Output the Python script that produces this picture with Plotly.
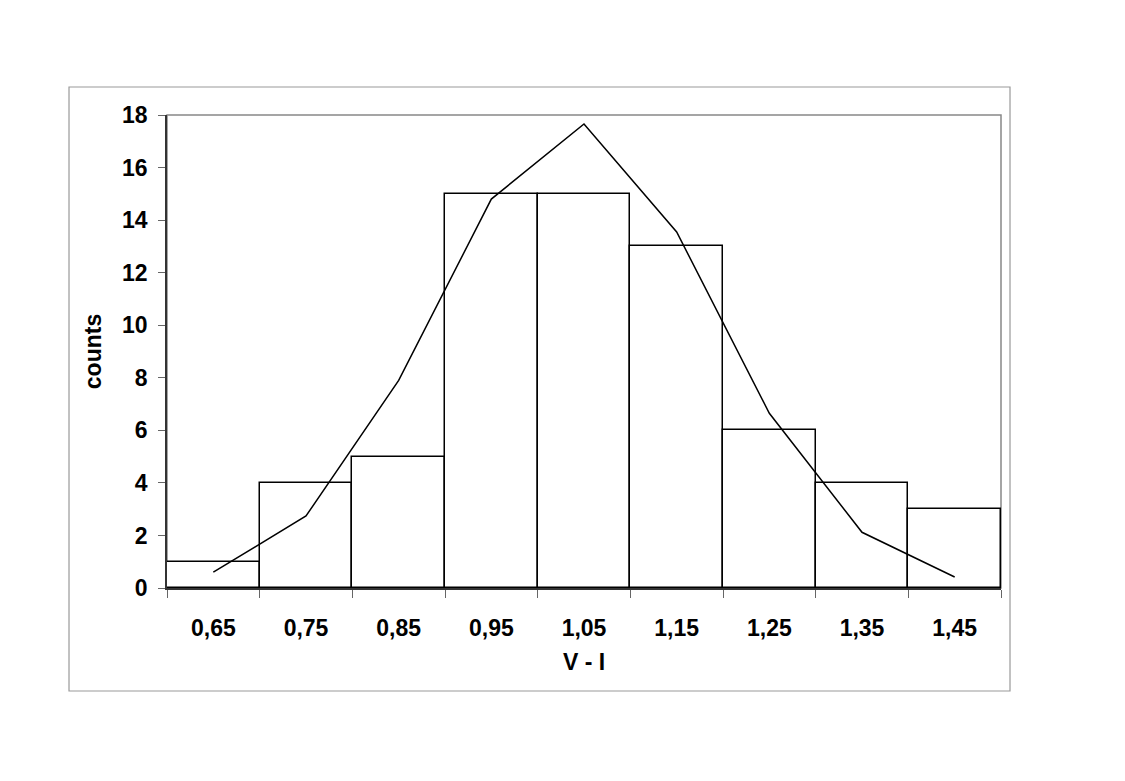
import plotly.graph_objects as go

bin_centers = [0.65, 0.75, 0.85, 0.95, 1.05, 1.15, 1.25, 1.35, 1.45]
bin_labels = ["0,65", "0,75", "0,85", "0,95", "1,05", "1,15", "1,25", "1,35", "1,45"]
counts = [1, 4, 5, 15, 15, 13, 6, 4, 3]
fit_values = [0.6, 2.74, 7.9, 14.8, 17.66, 13.55, 6.65, 2.12, 0.42]
y_ticks = [0, 2, 4, 6, 8, 10, 12, 14, 16, 18]

fig = go.Figure()
fig.add_trace(go.Bar(
    x=bin_centers, y=counts, width=0.1,
    marker=dict(color="white", line=dict(color="black", width=1.5)),
    showlegend=False,
))
fig.add_trace(go.Scatter(
    x=bin_centers, y=fit_values, mode="lines",
    line=dict(color="black", width=1.5), showlegend=False,
))

font_tick = dict(family="Liberation Sans, Arial", size=23, color="black")

fig.update_layout(
    width=1125, height=781,
    paper_bgcolor="white", plot_bgcolor="white",
    margin=dict(l=159, r=132, t=107, b=201),
    bargap=0,
    xaxis=dict(
        range=[0.6, 1.5], tickvals=bin_centers, ticktext=[f"<b>{t}</b>" for t in bin_labels],
        ticks="", tickfont=font_tick, showgrid=False, zeroline=False,
        showline=True, linecolor="#333333", linewidth=1.5,
        minor=dict(tick0=0.6, dtick=0.1, ticks="outside", ticklen=8, tickcolor="#666666", tickwidth=1),
        title=dict(text="<b>V - I</b>", font=dict(family="Liberation Sans, Arial", size=23, color="black"), standoff=14),
        ticklabelstandoff=19,
    ),
    yaxis=dict(
        range=[0, 18], tickvals=y_ticks, ticktext=[f"<b>{v}</b>" for v in y_ticks],
        ticks="outside", ticklen=7, tickcolor="#666666", tickwidth=1,
        tickfont=font_tick, showgrid=False, zeroline=False,
        showline=True, linecolor="#333333", linewidth=1.5,
        title=dict(text="<b>counts</b>", font=dict(family="Liberation Sans, Arial", size=23, color="black"), standoff=14),
        ticklabelstandoff=6,
    ),
    shapes=[
        dict(type="rect", xref="paper", yref="paper", x0=0, x1=1, y0=0, y1=1,
             line=dict(color="#888888", width=1.5), layer="below"),
        dict(type="rect", xref="paper", yref="paper", x0=-0.1175, x1=1.0108, y0=-0.2178, y1=1.0592,
             line=dict(color="#999999", width=1.2)),
    ],
)

fig.write_html("out.html")
